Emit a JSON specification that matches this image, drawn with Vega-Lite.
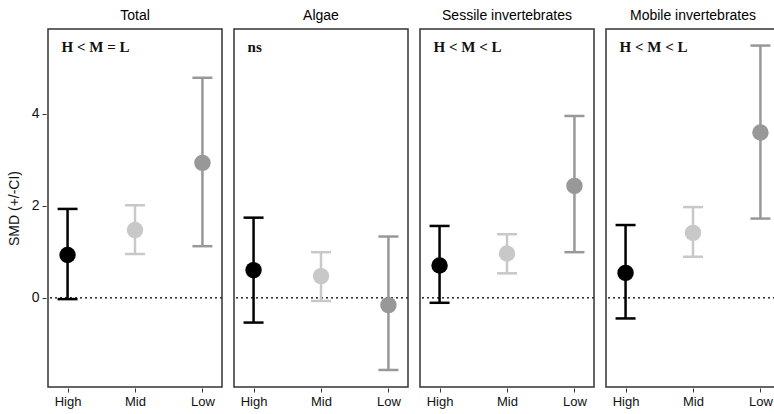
{
  "$schema": "https://vega.github.io/schema/vega-lite/v6.json",
  "padding": {"left": 7, "top": 9, "right": 2, "bottom": 1},
  "background": "white",
  "data": {"values": [
    {"panel": "Total", "level": "High", "smd": 0.93, "lo": -0.03, "hi": 1.93, "note": "H < M = L"},
    {"panel": "Total", "level": "Mid", "smd": 1.47, "lo": 0.95, "hi": 2.01, "note": "H < M = L"},
    {"panel": "Total", "level": "Low", "smd": 2.93, "lo": 1.12, "hi": 4.78, "note": "H < M = L"},
    {"panel": "Algae", "level": "High", "smd": 0.60, "lo": -0.54, "hi": 1.74, "note": "ns"},
    {"panel": "Algae", "level": "Mid", "smd": 0.47, "lo": -0.07, "hi": 0.99, "note": "ns"},
    {"panel": "Algae", "level": "Low", "smd": -0.16, "lo": -1.57, "hi": 1.33, "note": "ns"},
    {"panel": "Sessile invertebrates", "level": "High", "smd": 0.70, "lo": -0.11, "hi": 1.56, "note": "H < M < L"},
    {"panel": "Sessile invertebrates", "level": "Mid", "smd": 0.96, "lo": 0.53, "hi": 1.38, "note": "H < M < L"},
    {"panel": "Sessile invertebrates", "level": "Low", "smd": 2.43, "lo": 0.99, "hi": 3.95, "note": "H < M < L"},
    {"panel": "Mobile invertebrates", "level": "High", "smd": 0.54, "lo": -0.45, "hi": 1.58, "note": "H < M < L"},
    {"panel": "Mobile invertebrates", "level": "Mid", "smd": 1.41, "lo": 0.89, "hi": 1.97, "note": "H < M < L"},
    {"panel": "Mobile invertebrates", "level": "Low", "smd": 3.59, "lo": 1.72, "hi": 5.48, "note": "H < M < L"}
  ]},
  "facet": {
    "column": {
      "field": "panel", "type": "nominal",
      "sort": ["Total", "Algae", "Sessile invertebrates", "Mobile invertebrates"],
      "header": {"title": null, "labelFontSize": 14, "labelFont": "Liberation Sans", "labelColor": "#000000", "labelPadding": 5}
    }
  },
  "spacing": 8,
  "spec": {
    "width": 174,
    "height": 358,
    "encoding": {
      "x": {"field": "level", "type": "nominal", "sort": ["High", "Mid", "Low"],
        "scale": {"type": "point", "domain": ["High", "Mid", "Low"], "padding": 0.29},
        "axis": {"title": null, "labelAngle": 0, "labelFontSize": 13, "labelFont": "Liberation Sans", "labelColor": "#111111", "tickSize": 4, "tickColor": "#333333", "domain": false, "labelPadding": 3}},
      "color": {"field": "level", "type": "nominal",
        "scale": {"domain": ["High", "Mid", "Low"], "range": ["#000000", "#c8c8c8", "#989898"]},
        "legend": null}
    },
    "layer": [
      {"mark": {"type": "rule", "strokeDash": [2, 3], "color": "#333333", "strokeWidth": 1.2},
        "encoding": {"y": {"datum": 0}, "x": null, "color": null}},
      {"mark": {"type": "rule", "strokeWidth": 2.5},
        "encoding": {
          "y": {"field": "lo", "type": "quantitative",
            "scale": {"domain": [-1.94, 5.84], "nice": false, "zero": false},
            "axis": {"title": "SMD (+/-CI)", "values": [0, 2, 4], "grid": false, "domain": false, "labelFontSize": 14, "labelFont": "Liberation Sans", "labelColor": "#111111", "tickSize": 4, "tickColor": "#333333", "titleFontSize": 14, "titleFont": "Liberation Sans", "titleFontWeight": "normal", "titleColor": "#111111", "titlePadding": 10, "labelPadding": 3}},
          "y2": {"field": "hi"}
        }},
      {"mark": {"type": "tick", "thickness": 2.5, "size": 20, "orient": "horizontal", "opacity": 1},
        "encoding": {"y": {"field": "lo", "type": "quantitative"}}},
      {"mark": {"type": "tick", "thickness": 2.5, "size": 20, "orient": "horizontal", "opacity": 1},
        "encoding": {"y": {"field": "hi", "type": "quantitative"}}},
      {"mark": {"type": "circle", "size": 270, "opacity": 1},
        "encoding": {"y": {"field": "smd", "type": "quantitative"}}},
      {"transform": [{"filter": "datum.level == 'High'"}],
        "mark": {"type": "text", "font": "Liberation Serif", "fontWeight": "bold", "fontSize": 15, "align": "left", "baseline": "middle", "dx": -6, "color": "#111111"},
        "encoding": {"y": {"datum": 5.45}, "text": {"field": "note"}, "color": null}}
    ]
  },
  "config": {
    "view": {"stroke": "#333333", "strokeWidth": 1.5},
    "axis": {"grid": false}
  }
}
